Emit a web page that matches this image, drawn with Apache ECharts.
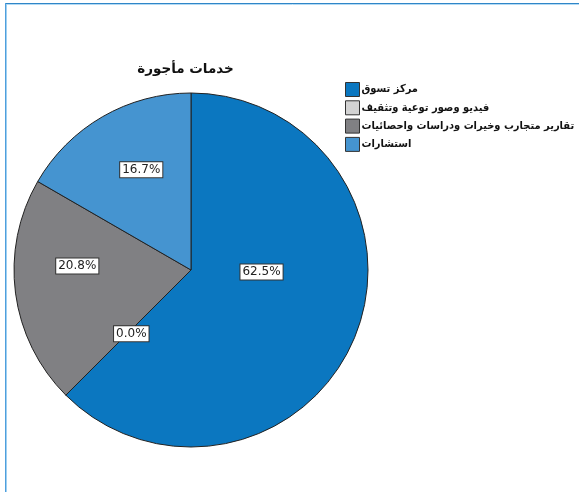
<!DOCTYPE html>
<html>
<head>
<meta charset="utf-8">
<script src="https://cdn.jsdelivr.net/npm/echarts@6/dist/echarts.min.js"></script>
<style>
html,body{margin:0;padding:0;background:#fff;}
#chart{width:579px;height:492px;}
</style>
</head>
<body>
<div id="chart"></div>
<script>
const title = 'خدمات مأجورة';
const categories = ['مركز تسوق', 'فيديو وصور توعية وتثقيف', 'تقارير متجارب وخيرات ودراسات واحصائيات', 'استشارات'];
const counts = [15, 0, 5, 4];
const colors = ['#0b77c0', '#d3d3d3', '#808083', '#4594d0'];
// label shifts from ECharts' inside position (px)
const labelShift = [[-14, -33], [5, -1], [-23, -16], [-4, -21]];

const total = counts.reduce((a, b) => a + b, 0);
const chart = echarts.init(document.getElementById('chart'), null, {renderer: 'canvas'});
const font = '"DejaVu Sans", "Noto Sans", sans-serif';
const legendFont = '"DejaVu Sans Condensed", "DejaVu Sans", sans-serif';

chart.setOption({
  animation: false,
  backgroundColor: '#fff',
  color: colors,
  graphic: [
    {type: 'line', shape: {x1: 5, y1: 3.5, x2: 579, y2: 3.5}, style: {stroke: '#2f86c8', lineWidth: 1}},
    {type: 'line', shape: {x1: 6, y1: 4.5, x2: 579, y2: 4.5}, style: {stroke: '#b3daf4', lineWidth: 1}},
    {type: 'line', shape: {x1: 5.5, y1: 3, x2: 5.5, y2: 492}, style: {stroke: '#4f9fdc', lineWidth: 1}},
    {type: 'line', shape: {x1: 6.5, y1: 4, x2: 6.5, y2: 492}, style: {stroke: '#9fd0f2', lineWidth: 1}}
  ],
  title: {
    text: title,
    left: 180.5, top: 57, textAlign: 'center',
    textStyle: {fontFamily: font, fontSize: 13.5, fontWeight: 'bold', color: '#111'}
  },
  legend: {
    orient: 'vertical',
    left: 345, top: 82,
    padding: 0,
    itemWidth: 14, itemHeight: 14,
    itemGap: 3.3,
    icon: 'rect',
    itemStyle: {borderColor: '#333', borderWidth: 1},
    textStyle: {fontFamily: legendFont, fontSize: 11, fontWeight: 'bold', color: '#111', padding: [0, 0, 0, -3]},
    data: categories
  },
  series: [{
    type: 'pie',
    center: [191, 270],
    radius: 177,
    startAngle: 90,
    clockwise: true,
    avoidLabelOverlap: false,
    minShowLabelAngle: 0,
    stillShowZeroSum: true,
    itemStyle: {borderColor: '#222', borderWidth: 1},
    emphasis: {disabled: true},
    label: {
      show: true,
      position: 'inside',
      formatter: p => (p.value / total * 100).toFixed(1) + '%',
      fontFamily: font,
      fontSize: 12,
      color: '#222',
      backgroundColor: '#fff',
      borderColor: '#333',
      borderWidth: 1,
      padding: [2, 2, 1, 2]
    },
    labelLine: {show: false},
    labelLayout: p => ({dx: labelShift[p.dataIndex][0], dy: labelShift[p.dataIndex][1]}),
    data: categories.map((c, i) => ({name: c, value: counts[i]}))
  }]
});
</script>
</body>
</html>
